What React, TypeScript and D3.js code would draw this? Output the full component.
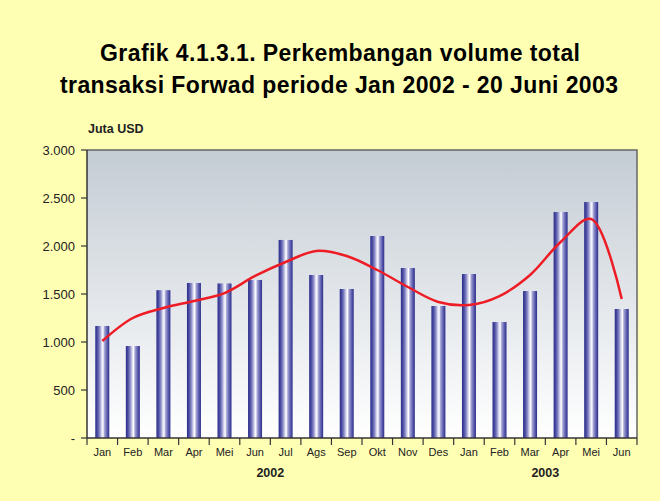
import React from "react";
import * as d3 from "d3";

const months = ["Jan", "Feb", "Mar", "Apr", "Mei", "Jun", "Jul", "Ags", "Sep", "Okt", "Nov", "Des", "Jan", "Feb", "Mar", "Apr", "Mei", "Jun"];
const years = [
  { label: "2002", from: 0, to: 11 },
  { label: "2003", from: 12, to: 17 },
];
const volume = [1167, 958, 1540, 1615, 1610, 1646, 2063, 1698, 1552, 2104, 1771, 1375, 1708, 1208, 1531, 2354, 2458, 1344];
const trend = [1010, 1250, 1354, 1427, 1510, 1688, 1833, 1948, 1896, 1750, 1573, 1417, 1385, 1479, 1698, 2042, 2281, 1448];
const yTicks = [0, 500, 1000, 1500, 2000, 2500, 3000];

const W = 660;
const H = 501;
const m = { left: 87, right: 23, top: 150, bottom: 63 };

export default function App() {
  const innerW = W - m.left - m.right;
  const innerH = H - m.top - m.bottom;
  const keys = months.map((_, i) => i);

  const x = d3.scaleBand<number>().domain(keys).range([m.left, m.left + innerW]).paddingInner(0);
  const y = d3.scaleLinear().domain([0, 3000]).range([m.top + innerH, m.top]);
  const bw = x.bandwidth();
  const barW = 14;

  const line = d3
    .line<number>()
    .x((_, i) => x(i)! + bw / 2)
    .y((d) => y(d))
    .curve(d3.curveCatmullRom.alpha(0.5));

  const fmt = (v: number) => (v === 0 ? "-" : d3.format(",")(v).replace(/,/g, "."));
  const bottom = m.top + innerH;

  return (
    <svg width={W} height={H} style={{ position: "absolute", left: 0, top: 0, fontFamily: "'Liberation Sans', Arial, sans-serif" }}>
      <defs>
        <linearGradient id="plotbg" x1="0" y1="0" x2="0" y2="1">
          <stop offset="0%" stopColor="#c4ccd4" />
          <stop offset="100%" stopColor="#ffffff" />
        </linearGradient>
        <linearGradient id="bar" x1="0" y1="0" x2="1" y2="0">
          <stop offset="0%" stopColor="#2a2c8a" />
          <stop offset="15%" stopColor="#4a4ca2" />
          <stop offset="30%" stopColor="#8585c4" />
          <stop offset="45%" stopColor="#d8d8f0" />
          <stop offset="55%" stopColor="#ffffff" />
          <stop offset="65%" stopColor="#a8a8d8" />
          <stop offset="80%" stopColor="#6d6db8" />
          <stop offset="100%" stopColor="#2a2c8a" />
        </linearGradient>
      </defs>
      <rect width={W} height={H} fill="#ffffb4" />

      <text x={100} y={61} fontSize={23} fontWeight="bold" fill="#000" textLength={480} lengthAdjust="spacing">
        Grafik 4.1.3.1. Perkembangan volume total
      </text>
      <text x={60} y={93} fontSize={23} fontWeight="bold" fill="#000" textLength={558} lengthAdjust="spacing">
        transaksi Forwad periode Jan 2002 - 20 Juni 2003
      </text>

      <text x={88} y={133} fontSize={12.5} fontWeight="bold" fill="#222">Juta USD</text>

      <rect x={m.left} y={m.top} width={innerW} height={innerH} fill="url(#plotbg)" />
      <path d={`M${m.left},${m.top}H${m.left + innerW}V${bottom}`} fill="none" stroke="#666" strokeWidth={1.5} />

      {volume.map((v, i) => (
        <rect key={i} x={x(i)! + (bw - barW) / 2} y={y(v)} width={barW} height={bottom - y(v)} fill="url(#bar)" />
      ))}

      <path d={line(trend) || ""} fill="none" stroke="#ee1c25" strokeWidth={2.5} />

      <line x1={m.left} x2={m.left} y1={m.top} y2={bottom} stroke="#333" strokeWidth={1.5} />
      <line x1={m.left} x2={m.left + innerW} y1={bottom} y2={bottom} stroke="#333" strokeWidth={1.5} />

      {yTicks.map((t) => (
        <g key={t}>
          <line x1={m.left - 6} x2={m.left} y1={y(t)} y2={y(t)} stroke="#333" strokeWidth={1.2} />
          <text x={m.left - 12} y={y(t) + 5} textAnchor="end" fontSize={13} fill="#222">
            {fmt(t)}
          </text>
        </g>
      ))}

      {d3.range(months.length + 1).map((i) => {
        const px = i < months.length ? x(i)! : m.left + innerW;
        return <line key={i} x1={px} x2={px} y1={bottom} y2={bottom + 7} stroke="#333" strokeWidth={1.2} />;
      })}

      {months.map((mo, i) => (
        <text key={i} x={x(i)! + bw / 2} y={456} textAnchor="middle" fontSize={11} fill="#222">
          {mo}
        </text>
      ))}

      {years.map((yr) => (
        <text key={yr.label} x={(x(yr.from)! + x(yr.to)! + bw) / 2} y={477} textAnchor="middle" fontSize={12.5} fontWeight="bold" fill="#222">
          {yr.label}
        </text>
      ))}
    </svg>
  );
}
